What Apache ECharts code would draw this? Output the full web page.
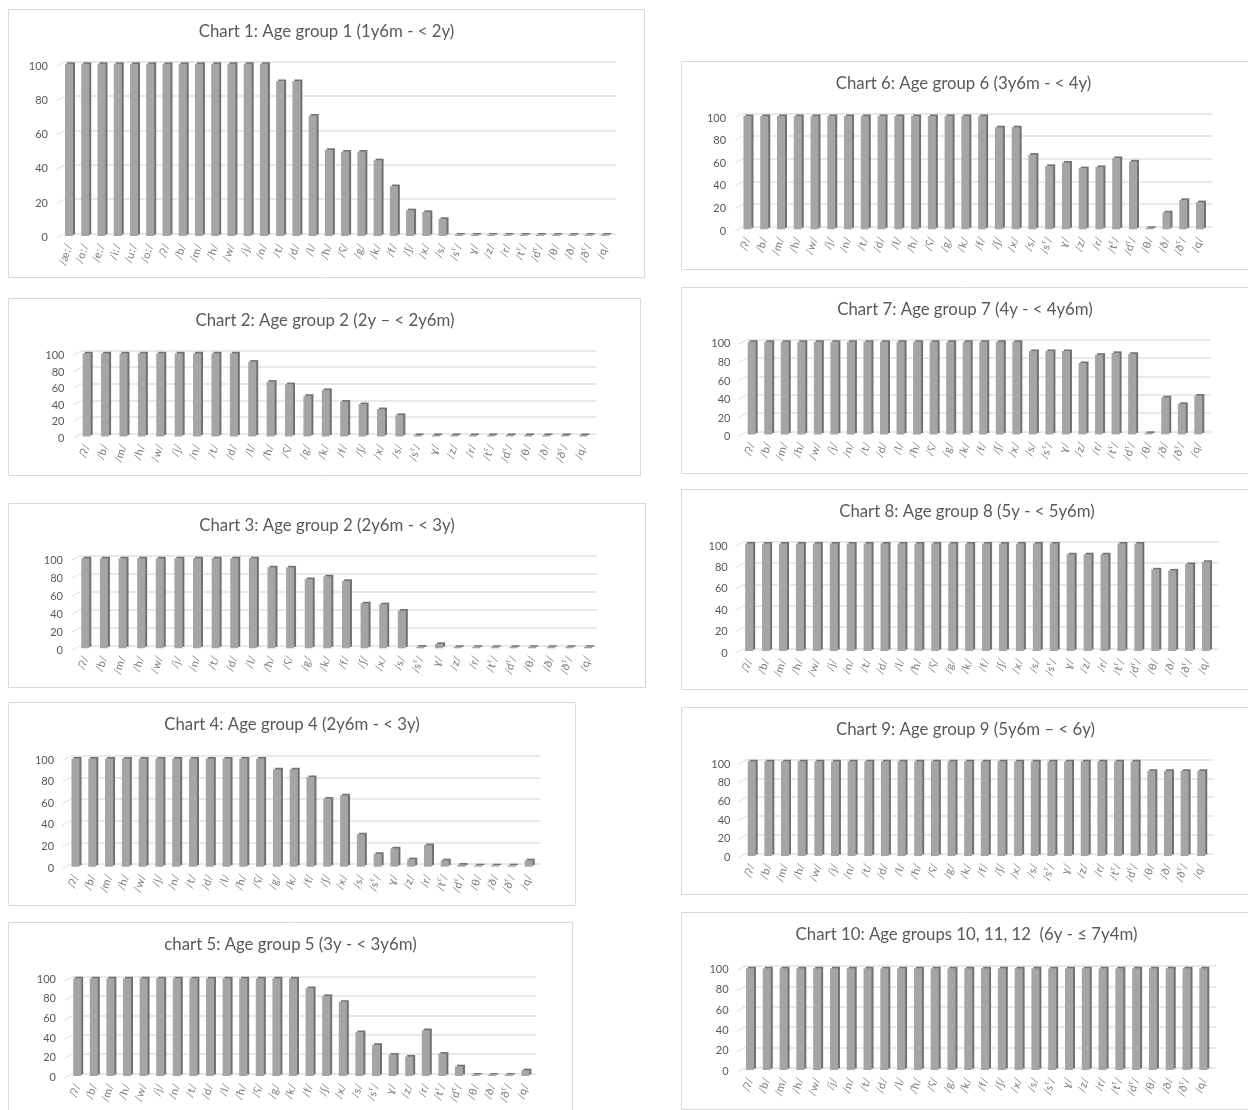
<!DOCTYPE html>
<html><head><meta charset="utf-8">
<style>html,body{margin:0;padding:0;background:#fff}#c{width:1248px;height:1110px}</style>
<script src="https://cdn.jsdelivr.net/npm/echarts@6/dist/echarts.min.js"></script>
</head><body><div id="c"></div>
<script>
const categoriesLong = ['/æː/','/ɑː/','/eː/','/iː/','/uː/','/oː/','/ʔ/','/b/','/m/','/h/','/w/','/j/','/n/','/t/','/d/','/l/','/ħ/','/ʕ/','/g/','/k/','/f/','/ʃ/','/x/','/s/','/sˤ/','ɣ/','/z/','/r/','/tˤ/','/dˤ/','/θ/','/ð/','/ðˤ/','/q/'];
const categoriesShort = ['/ʔ/','/b/','/m/','/h/','/w/','/j/','/n/','/t/','/d/','/l/','/ħ/','/ʕ/','/g/','/k/','/f/','/ʃ/','/x/','/s/','/sˤ/','ɣ/','/z/','/r/','/tˤ/','/dˤ/','/θ/','/ð/','/ðˤ/','/q/'];
const yTicks = [0,20,40,60,80,100];
const values1 = [100,100,100,100,100,100,100,100,100,100,100,100,100,90,90,70,50,49,49,44,29,15,14,10,0,0,0,0,0,0,0,0,0,0];
const values2 = [100,100,100,100,100,100,100,100,100,90,66,63,49,56,42,39,33,26,0,0,0,0,0,0,0,0,0,0];
const values3 = [100,100,100,100,100,100,100,100,100,100,90,90,77,80,75,50,49,42,2,5,1,0,0,0,0,0,0,0];
const values4 = [100,100,100,100,100,100,100,100,100,100,100,100,90,90,83,63,66,30,12,17,7,20,6,2,0,0,0,6];
const values5 = [100,100,100,100,100,100,100,100,100,100,100,100,100,100,90,82,76,45,32,22,20,47,23,10,0,0,0,6];
const values6 = [100,100,100,100,100,100,100,100,100,100,100,100,100,100,100,90,90,66,56,59,54,55,63,60,0,15,26,24];
const values7 = [100,100,100,100,100,100,100,100,100,100,100,100,100,100,100,100,100,90,90,90,77,86,88,87,0,40,33,42];
const values8 = [100,100,100,100,100,100,100,100,100,100,100,100,100,100,100,100,100,100,100,90,90,90,100,100,76,75,81,83];
const values9 = [100,100,100,100,100,100,100,100,100,100,100,100,100,100,100,100,100,100,100,100,100,100,100,100,90,90,90,90];
const values10 = [100,100,100,100,100,100,100,100,100,100,100,100,100,100,100,100,100,100,100,100,100,100,100,100,100,100,100,100];
const titles = ['Chart 1: Age group 1 (1y6m - < 2y)','Chart 2: Age group 2 (2y – < 2y6m)','Chart 3: Age group 2 (2y6m - < 3y)','Chart 4: Age group 4 (2y6m - < 3y)','chart 5: Age group 5 (3y - < 3y6m)','Chart 6: Age group 6 (3y6m - < 4y)','Chart 7: Age group 7 (4y - < 4y6m)','Chart 8: Age group 8 (5y - < 5y6m)','Chart 9: Age group 9 (5y6m – < 6y)','Chart 10: Age groups 10, 11, 12  (6y - ≤ 7y4m)'];
const allValues = [values1,values2,values3,values4,values5,values6,values7,values8,values9,values10];

// frame [x0,y0,x1,y1], wall plane [x0,y100,x1,y0], bar plane [x0,y100,x1,y0], label plane [y100,y0], title centre x,y
const layout = [
 {f:[8,9,645,278],     w:[65,61.7,616,233.3],      b:[60.9,63.7,613.1,236],     l:[66,237.3],    tx:326.5,t:31},
 {f:[8,298,641,476],   w:[81.5,350.7,596,433.3],   b:[77.5,353.3,592.5,436.5],  l:[355.7,438.3], tx:325,t:320},
 {f:[8,503,646,688],   w:[80,555.7,597,645.7],     b:[76,558.3,597.3,648.3],    l:[560.7,650],   tx:327,t:525},
 {f:[8,702,576,906],   w:[70.5,756,540,864],       b:[67.1,758.5,537.1,866.7],  l:[760,868],     tx:292,t:724},
 {f:[8,922,573,1113],  w:[72.7,976.7,536,1073.3],  b:[68.9,978.3,533.7,1076],   l:[979.3,1077.3],tx:290.5,t:944},
 {f:[681,61,1252,270], w:[743,113.3,1212.3,226.7], b:[739.1,116,1208.4,229.3],  l:[118,231],     tx:963.5,t:83},
 {f:[681,287,1252,474],w:[746.7,339.6,1210.7,431.6],b:[743.4,341.7,1206.6,434.4],l:[343.8,436.8],tx:965,t:309},
 {f:[681,489,1252,690],w:[743.5,541.8,1218.7,648.6],b:[740.7,543.5,1214.5,651], l:[546,653],     tx:967,t:511},
 {f:[681,707,1252,895],w:[746.5,759.5,1213.3,853.5],b:[743.4,761.2,1209.6,855.9],l:[764,857.6],  tx:965.5,t:729},
 {f:[681,912,1252,1110],w:[745,966,1216,1067.7],   b:[741.6,968.3,1211.7,1070], l:[969.3,1071],  tx:966.5,t:934}
];
const FONT = 'Lato, "Noto Sans", sans-serif';
const opt = {animation:false, backgroundColor:'#fff', title:[], grid:[], xAxis:[], yAxis:[], series:[], graphic:[]};
const N = layout.length;
layout.forEach((L,i)=>{
  const {f,w,b,t,tx} = L;
  opt.graphic.push({type:'rect',silent:true,z:-1,shape:{x:f[0]+.5,y:f[1]+.5,width:f[2]-f[0]-1,height:f[3]-f[1]-1},style:{fill:'#fff',stroke:'#d9d9d9',lineWidth:1}});
  yTicks.forEach(v=>{
    const y = w[3]-(w[3]-w[1])*v/100;
    opt.graphic.push({type:'line',silent:true,z:-1,shape:{x1:w[0],y1:y,x2:w[0]-8,y2:y+4.5},style:{stroke:'#dedede',lineWidth:1}});
  });
  opt.title.push({text:titles[i],padding:0,left:tx,top:t-8,textAlign:'center',textStyle:{color:'#595959',fontFamily:FONT,fontSize:16.8,fontWeight:'normal'}});
  // bar plane
  opt.grid.push({left:b[0],top:b[1],width:b[2]-b[0],height:b[3]-b[1]});
  const cats = i===0?categoriesLong:categoriesShort;
  opt.xAxis.push({type:'category',gridIndex:i,data:cats,axisTick:{show:false},axisLine:{show:false},
    axisLabel:{rotate:72,interval:0,margin:8,color:'#7a7a7a',fontSize:11,fontFamily:FONT}});
  opt.yAxis.push({type:'value',gridIndex:i,min:0,max:100,interval:yTicks[1]-yTicks[0],axisLine:{show:false},axisTick:{show:false},
    splitLine:{show:false},axisLabel:{show:false}});
  opt.series.push({type:'bar',xAxisIndex:i,yAxisIndex:i,data:allValues[i],barWidth:8,barMinHeight:1.5,z:3,
    itemStyle:{color:'#a5a5a5',shadowColor:'#727272',shadowBlur:0,shadowOffsetX:2,shadowOffsetY:-1.5}});
});
layout.forEach((L,i)=>{
  // back wall with the gridlines
  const w = L.w;
  opt.grid.push({left:w[0],top:w[1],width:w[2]-w[0],height:w[3]-w[1]});
  opt.xAxis.push({type:'value',gridIndex:N+i,min:0,max:1,show:false});
  opt.yAxis.push({type:'value',gridIndex:N+i,min:0,max:100,interval:yTicks[1]-yTicks[0],z:0,axisLine:{show:false},axisTick:{show:false},axisLabel:{show:false},
    splitLine:{show:true,lineStyle:{color:'#e2e2e2',width:1.5}}});
});
layout.forEach((L,i)=>{
  // front plane that carries the value labels
  const {b,l} = L;
  opt.grid.push({left:b[0],top:l[0],width:b[2]-b[0],height:l[1]-l[0]});
  opt.xAxis.push({type:'value',gridIndex:2*N+i,min:0,max:1,show:false});
  opt.yAxis.push({type:'value',gridIndex:2*N+i,min:0,max:100,interval:yTicks[1]-yTicks[0],axisLine:{show:false},axisTick:{show:false},splitLine:{show:false},
    axisLabel:{margin:13,color:'#595959',fontSize:11,fontFamily:FONT}});
});
echarts.init(document.getElementById('c'),null,{renderer:'canvas'}).setOption(opt);
</script></body></html>
